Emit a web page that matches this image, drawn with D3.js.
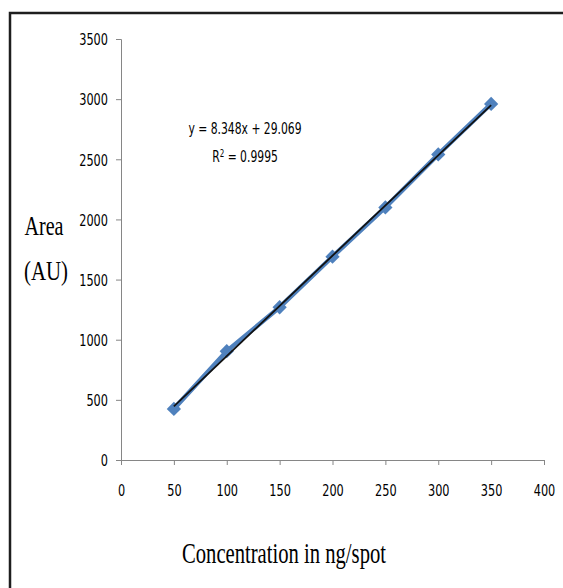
<!DOCTYPE html>
<html lang="en">
<head>
    <meta charset="UTF-8">
    <title>Calibration curve</title>
    <style>
        body { margin: 0; background: #fff; }
        text { font-family: "Liberation Sans Narrow", "DejaVu Sans Condensed", sans-serif; }
    </style>
</head>
<body>
    <div class="canvas"></div>

    <script src="https://cdnjs.cloudflare.com/ajax/libs/d3/7.8.5/d3.min.js"></script>
    <script>
        // data
        const concentration = [50, 100, 150, 200, 250, 300, 350];
        const area = [425, 905, 1270, 1690, 2100, 2540, 2960];
        const xTicks = [0, 50, 100, 150, 200, 250, 300, 350, 400];
        const yTicks = [0, 500, 1000, 1500, 2000, 2500, 3000, 3500];
        const slope = 8.348, intercept = 29.069, r2 = "0.9995";

        const width = 563, height = 588;
        const svg = d3.select(".canvas").append("svg")
            .attr("width", width)
            .attr("height", height);

        // frame (top and left edges only are visible)
        svg.append("path")
            .attr("d", `M10,588 V13 H563`)
            .attr("fill", "none")
            .attr("stroke", "#1e1e1e")
            .attr("stroke-width", 2.5);

        const x = d3.scaleLinear().domain([0, 400]).range([121, 544]);
        const y = d3.scaleLinear().domain([0, 3500]).range([460, 39]);

        const xAxis = svg.append("g")
            .attr("transform", `translate(0,${y(0)})`)
            .call(d3.axisBottom(x).tickValues(xTicks).tickFormat(d3.format("d"))
                .tickSize(5).tickPadding(20));
        const yAxis = svg.append("g")
            .attr("transform", `translate(${x(0)},0)`)
            .call(d3.axisLeft(y).tickValues(yTicks).tickFormat(d3.format("d"))
                .tickSize(5).tickPadding(8));

        [xAxis, yAxis].forEach(g => {
            g.select(".domain").attr("stroke", "#868686");
            g.selectAll(".tick line").attr("stroke", "#868686");
            g.selectAll(".tick text")
                .attr("fill", "#000")
                .attr("textLength", d => String(d).length * 7.2)
                .attr("lengthAdjust", "spacingAndGlyphs")
                .style("font-size", "16px")
                .style("font-family", '"Liberation Sans Narrow", "DejaVu Sans Condensed", sans-serif');
        });
        yAxis.selectAll(".tick text").attr("dy", "0.36em");

        const pts = concentration.map((c, i) => [c, area[i]]);

        // series line + diamonds
        svg.append("path")
            .datum(pts)
            .attr("fill", "none")
            .attr("stroke", "#4f81bd")
            .attr("stroke-width", 4.5)
            .attr("d", d3.line().x(d => x(d[0])).y(d => y(d[1])));

        svg.selectAll(".pt")
            .data(pts)
            .join("path")
                .attr("class", "pt")
                .attr("transform", d => `translate(${x(d[0])},${y(d[1])})`)
                .attr("d", d3.symbol(d3.symbolDiamond2, 130))
                .attr("fill", "#4f81bd");

        // linear trendline
        const trend = [concentration[0], concentration[concentration.length - 1]]
            .map(c => [c, slope * c + intercept]);
        svg.append("path")
            .datum(trend)
            .attr("fill", "none")
            .attr("stroke", "#111")
            .attr("stroke-width", 1.8)
            .attr("d", d3.line().x(d => x(d[0])).y(d => y(d[1])));

        // equation (squeezed horizontally like the original)
        svg.append("g")
            .attr("transform", "translate(245,134) scale(0.8,1)")
            .append("text")
                .attr("text-anchor", "middle")
                .style("font-size", "15px")
                .text(`y = ${slope}x + ${intercept}`);
        const r = svg.append("g")
            .attr("transform", "translate(245,162) scale(0.8,1)")
            .append("text")
                .attr("text-anchor", "middle")
                .style("font-size", "15px");
        r.append("tspan").text("R");
        r.append("tspan").attr("dy", -5).style("font-size", "10px").text("2");
        r.append("tspan").attr("dy", 5).text(` = ${r2}`);

        // axis titles
        const serif = '"Liberation Serif", "DejaVu Serif", serif';
        svg.append("text")
            .attr("x", 44).attr("y", 235)
            .attr("text-anchor", "middle")
            .attr("textLength", 39).attr("lengthAdjust", "spacingAndGlyphs")
            .style("font-family", serif).style("font-size", "28px")
            .text("Area");
        svg.append("text")
            .attr("x", 46).attr("y", 280)
            .attr("text-anchor", "middle")
            .attr("textLength", 44).attr("lengthAdjust", "spacingAndGlyphs")
            .style("font-family", serif).style("font-size", "28px")
            .text("(AU)");
        svg.append("text")
            .attr("x", 284).attr("y", 563)
            .attr("text-anchor", "middle")
            .attr("textLength", 204).attr("lengthAdjust", "spacingAndGlyphs")
            .style("font-family", serif).style("font-size", "30px")
            .text("Concentration  in ng/spot");
    </script>
</body>
</html>
